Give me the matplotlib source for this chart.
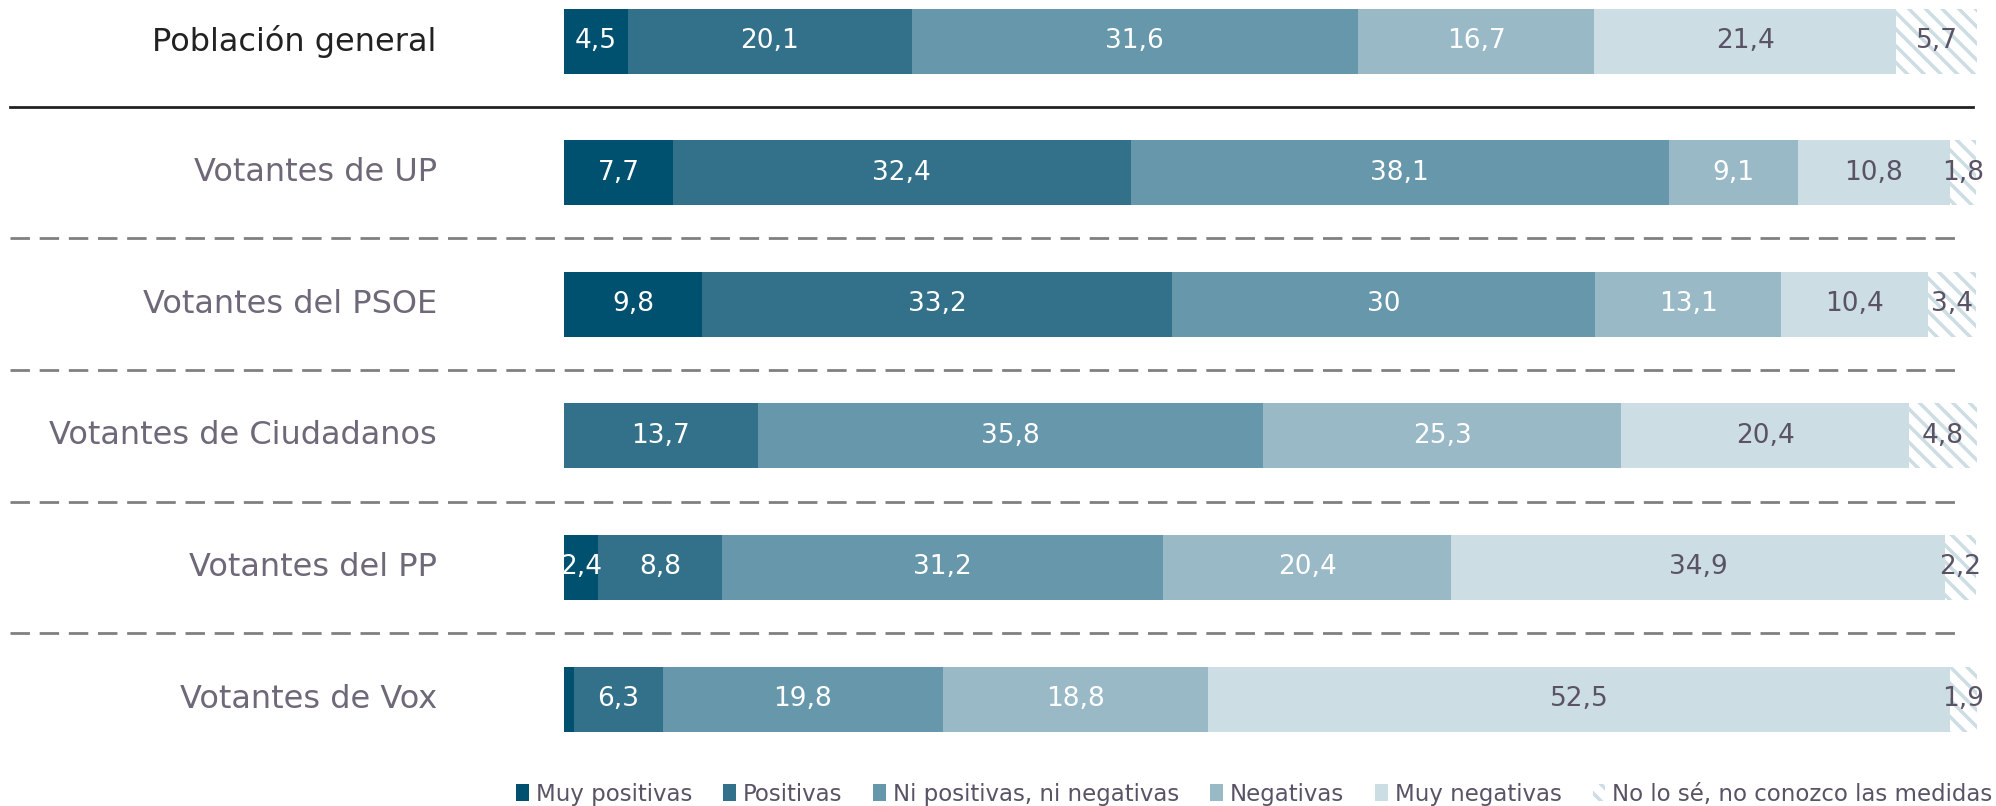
import matplotlib.pyplot as plt
import matplotlib.patches as mpatches

groups = ["Población general", "Votantes de UP", "Votantes del PSOE",
          "Votantes de Ciudadanos", "Votantes del PP", "Votantes de Vox"]
categories = ["Muy positivas", "Positivas", "Ni positivas, ni negativas",
              "Negativas", "Muy negativas", "No lo sé, no conozco las medidas"]

muy_positivas = [4.5, 7.7, 9.8, 0.0, 2.4, 0.7]
positivas = [20.1, 32.4, 33.2, 13.7, 8.8, 6.3]
ni_ni = [31.6, 38.1, 30.0, 35.8, 31.2, 19.8]
negativas = [16.7, 9.1, 13.1, 25.3, 20.4, 18.8]
muy_negativas = [21.4, 10.8, 10.4, 20.4, 34.9, 52.5]
no_lo_se = [5.7, 1.8, 3.4, 4.8, 2.2, 1.9]

# (group, category) pairs whose value is not written on the bar
hidden_labels = [(5, 0)]

series = [muy_positivas, positivas, ni_ni, negativas, muy_negativas, no_lo_se]
colors = ["#00506f", "#33718b", "#6697aa", "#99b9c6", "#ccdde3", "white"]
text_colors = ["white", "white", "white", "white", "#5a5366", "#5a5366"]
hatch_color = "#ccdde3"

plt.rcParams["font.family"] = ["DejaVu Sans"]
plt.rcParams["hatch.linewidth"] = 2.5
plt.rcParams["hatch.color"] = hatch_color

fig = plt.figure(figsize=(19.96, 8.06), dpi=100)
ax = fig.add_axes([564 / 1996, 0, 1413 / 1996, 1])
ax.set_xlim(0, 100)
ax.set_ylim(5.813, -0.3116)
ax.axis("off")

ypos = list(range(len(groups)))
left = [0.0] * len(groups)
for k, vals in enumerate(series):
    hatch = "\\\\" if k == 5 else None
    ax.barh(ypos, vals, left=left, height=0.494, color=colors[k],
            edgecolor=hatch_color if k == 5 else "none",
            linewidth=0, hatch=hatch)
    for i, v in enumerate(vals):
        if v > 0 and (i, k) not in hidden_labels:
            ax.text(left[i] + v / 2, i, f"{v:g}".replace(".", ","),
                    ha="center", va="center", fontsize=19,
                    color=text_colors[k])
    left = [a + b for a, b in zip(left, vals)]

for i, g in enumerate(groups):
    ax.text(-9, i, g, ha="right", va="center", fontsize=23,
            color="#222222" if i == 0 else "#6e6878", clip_on=False)

ax.plot([-39.2, 99.7], [0.5, 0.5], color="#222222", lw=2, clip_on=False)
for i in range(1, len(groups) - 1):
    ax.plot([-39.2, 98.9], [i + 0.5, i + 0.5], color="#808080", lw=2,
            dashes=(7, 3.5), clip_on=False)

handles = []
for k, c in enumerate(categories):
    if k == 5:
        handles.append(mpatches.Patch(facecolor="white", edgecolor=hatch_color,
                                      linewidth=0, hatch="\\\\", label=c))
    else:
        handles.append(mpatches.Patch(facecolor=colors[k], label=c))
fig.legend(handles=handles, loc="lower right", bbox_to_anchor=(1.0085, -0.025),
           ncol=6, frameon=False, fontsize=16.5, handlelength=0.55,
           handleheight=0.8, handletextpad=0.3, columnspacing=1.36,
           labelcolor="#5a5366")

fig.savefig("out.png", dpi=100)
plt.close(fig)
